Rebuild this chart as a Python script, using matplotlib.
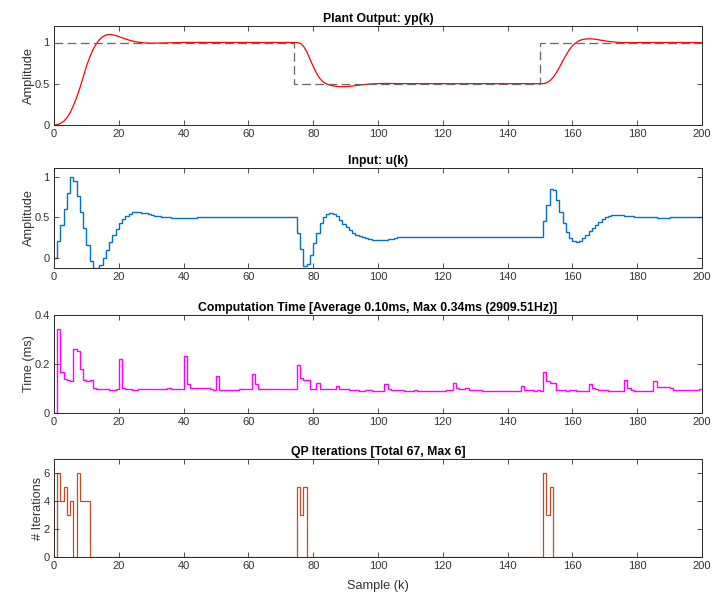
import numpy as np
import matplotlib
matplotlib.use("Agg")
import matplotlib.pyplot as plt

# ---------------- data ----------------
# plant output yp(k), k = 0..200
yp = [
    0.000, 0.005, 0.020, 0.045, 0.090, 0.150, 0.235, 0.335, 0.450, 0.580,
    0.710, 0.820, 0.910, 0.980, 1.035, 1.070, 1.090, 1.097, 1.094, 1.085,
    1.072, 1.058, 1.044, 1.031, 1.020, 1.011, 1.004, 0.999, 0.995, 0.993,
    0.992, 0.992, 0.993, 0.994, 0.995, 0.997, 0.998, 0.999, 1.000, 1.000,
    1.001, 1.001, 1.001, 1.001, 1.000, 1.000, 1.000, 1.000, 1.000, 1.000,
    1.000, 1.000, 1.000, 1.000, 1.000, 1.000, 1.000, 1.000, 1.000, 1.000,
    1.000, 1.000, 1.000, 1.000, 1.000, 1.000, 1.000, 1.000, 1.000, 1.000,
    1.000, 1.000, 1.000, 1.000, 1.000, 1.000, 0.990, 0.955, 0.890, 0.800,
    0.710, 0.630, 0.565, 0.525, 0.500, 0.485, 0.475, 0.469, 0.466, 0.465,
    0.466, 0.468, 0.472, 0.477, 0.482, 0.487, 0.491, 0.495, 0.498, 0.500,
    0.502, 0.503, 0.504, 0.504, 0.503, 0.503, 0.502, 0.501, 0.501, 0.500,
    0.500, 0.500, 0.500, 0.500, 0.500, 0.500, 0.500, 0.500, 0.500, 0.500,
    0.500, 0.500, 0.500, 0.500, 0.500, 0.500, 0.500, 0.500, 0.500, 0.500,
    0.500, 0.500, 0.500, 0.500, 0.500, 0.500, 0.500, 0.500, 0.500, 0.500,
    0.500, 0.500, 0.500, 0.500, 0.500, 0.500, 0.500, 0.500, 0.500, 0.500,
    0.500, 0.501, 0.510, 0.535, 0.575, 0.630, 0.700, 0.775, 0.845, 0.910,
    0.960, 0.995, 1.020, 1.035, 1.042, 1.045, 1.044, 1.040, 1.034, 1.027,
    1.020, 1.014, 1.009, 1.005, 1.002, 1.000, 0.999, 0.998, 0.998, 0.998,
    0.999, 0.999, 1.000, 1.000, 1.000, 1.000, 1.000, 1.000, 1.000, 1.000,
    1.000, 1.000, 1.000, 1.000, 1.000, 1.000, 1.000, 1.000, 1.000, 1.000,
    1.000,
]

# setpoint levels and the sample edges between them
setpoint_levels = [1.0, 0.5, 1.0]
setpoint_edges = [0, 74, 150, 200]

# input u(k), k = 0..199 (held to k+1)
u = [
    0.000, 0.200, 0.400, 0.600, 0.800, 1.000, 0.954, 0.760, 0.560, 0.370,
    0.160, -0.040, -0.125, -0.125, -0.090, -0.012, 0.088, 0.190, 0.275, 0.354,
    0.425, 0.475, 0.517, 0.540, 0.562, 0.562, 0.562, 0.550, 0.550, 0.538,
    0.525, 0.512, 0.512, 0.500, 0.500, 0.500, 0.488, 0.488, 0.488, 0.488,
    0.488, 0.488, 0.488, 0.488, 0.500, 0.500, 0.500, 0.500, 0.500, 0.500,
    0.500, 0.500, 0.500, 0.500, 0.500, 0.500, 0.500, 0.500, 0.500, 0.500,
    0.500, 0.500, 0.500, 0.500, 0.500, 0.500, 0.500, 0.500, 0.500, 0.500,
    0.500, 0.500, 0.500, 0.500, 0.500, 0.300, 0.100, -0.100, -0.085, 0.030,
    0.175, 0.310, 0.425, 0.500, 0.538, 0.550, 0.538, 0.512, 0.462, 0.412,
    0.375, 0.338, 0.300, 0.275, 0.262, 0.250, 0.238, 0.232, 0.222, 0.215,
    0.215, 0.218, 0.222, 0.228, 0.235, 0.240, 0.250, 0.250, 0.250, 0.250,
    0.250, 0.250, 0.250, 0.250, 0.250, 0.250, 0.250, 0.250, 0.250, 0.250,
    0.250, 0.250, 0.250, 0.250, 0.250, 0.250, 0.250, 0.250, 0.250, 0.250,
    0.250, 0.250, 0.250, 0.250, 0.250, 0.250, 0.250, 0.250, 0.250, 0.250,
    0.250, 0.250, 0.250, 0.250, 0.250, 0.250, 0.250, 0.250, 0.250, 0.250,
    0.250, 0.450, 0.650, 0.850, 0.840, 0.712, 0.562, 0.425, 0.312, 0.238,
    0.200, 0.188, 0.200, 0.238, 0.275, 0.325, 0.362, 0.400, 0.438, 0.475,
    0.500, 0.512, 0.525, 0.525, 0.525, 0.525, 0.518, 0.518, 0.518, 0.500,
    0.500, 0.500, 0.500, 0.500, 0.500, 0.500, 0.488, 0.488, 0.488, 0.488,
    0.500, 0.500, 0.500, 0.500, 0.500, 0.500, 0.500, 0.500, 0.500, 0.500,
]

# computation time (ms), k = 0..199
comp_time = [
    0.000, 0.344, 0.168, 0.140, 0.136, 0.132, 0.263, 0.255, 0.181, 0.136,
    0.132, 0.136, 0.103, 0.099, 0.099, 0.099, 0.099, 0.095, 0.095, 0.099,
    0.222, 0.104, 0.096, 0.096, 0.092, 0.092, 0.099, 0.099, 0.099, 0.099,
    0.099, 0.099, 0.099, 0.099, 0.099, 0.103, 0.096, 0.096, 0.096, 0.099,
    0.232, 0.118, 0.101, 0.101, 0.101, 0.101, 0.101, 0.101, 0.098, 0.093,
    0.149, 0.093, 0.093, 0.093, 0.093, 0.093, 0.093, 0.099, 0.099, 0.099,
    0.099, 0.158, 0.118, 0.100, 0.100, 0.100, 0.100, 0.097, 0.099, 0.096,
    0.096, 0.096, 0.096, 0.096, 0.096, 0.195, 0.142, 0.134, 0.134, 0.100,
    0.100, 0.124, 0.100, 0.100, 0.100, 0.100, 0.100, 0.112, 0.098, 0.098,
    0.098, 0.094, 0.094, 0.094, 0.091, 0.091, 0.095, 0.095, 0.091, 0.091,
    0.091, 0.091, 0.118, 0.098, 0.095, 0.095, 0.095, 0.095, 0.091, 0.091,
    0.091, 0.095, 0.091, 0.091, 0.091, 0.091, 0.091, 0.091, 0.091, 0.091,
    0.091, 0.095, 0.095, 0.122, 0.102, 0.099, 0.099, 0.102, 0.095, 0.095,
    0.095, 0.095, 0.091, 0.091, 0.091, 0.091, 0.091, 0.091, 0.091, 0.091,
    0.091, 0.091, 0.091, 0.091, 0.111, 0.095, 0.095, 0.095, 0.091, 0.095,
    0.091, 0.169, 0.129, 0.122, 0.122, 0.095, 0.095, 0.095, 0.091, 0.095,
    0.095, 0.091, 0.091, 0.091, 0.091, 0.118, 0.104, 0.098, 0.095, 0.095,
    0.095, 0.091, 0.091, 0.091, 0.091, 0.091, 0.136, 0.102, 0.095, 0.091,
    0.091, 0.091, 0.091, 0.091, 0.091, 0.131, 0.106, 0.106, 0.106, 0.106,
    0.102, 0.095, 0.095, 0.095, 0.095, 0.095, 0.095, 0.095, 0.095, 0.098,
]

# QP iterations, k = 0..199
qp_iters = [
    0, 6, 4, 5, 3, 4, 0, 6, 4, 4,
    4, 0, 0, 0, 0, 0, 0, 0, 0, 0,
    0, 0, 0, 0, 0, 0, 0, 0, 0, 0,
    0, 0, 0, 0, 0, 0, 0, 0, 0, 0,
    0, 0, 0, 0, 0, 0, 0, 0, 0, 0,
    0, 0, 0, 0, 0, 0, 0, 0, 0, 0,
    0, 0, 0, 0, 0, 0, 0, 0, 0, 0,
    0, 0, 0, 0, 0, 5, 3, 5, 0, 0,
    0, 0, 0, 0, 0, 0, 0, 0, 0, 0,
    0, 0, 0, 0, 0, 0, 0, 0, 0, 0,
    0, 0, 0, 0, 0, 0, 0, 0, 0, 0,
    0, 0, 0, 0, 0, 0, 0, 0, 0, 0,
    0, 0, 0, 0, 0, 0, 0, 0, 0, 0,
    0, 0, 0, 0, 0, 0, 0, 0, 0, 0,
    0, 0, 0, 0, 0, 0, 0, 0, 0, 0,
    0, 6, 3, 5, 0, 0, 0, 0, 0, 0,
    0, 0, 0, 0, 0, 0, 0, 0, 0, 0,
    0, 0, 0, 0, 0, 0, 0, 0, 0, 0,
    0, 0, 0, 0, 0, 0, 0, 0, 0, 0,
    0, 0, 0, 0, 0, 0, 0, 0, 0, 0,
]

titles = [
    "Plant Output: yp(k)",
    "Input: u(k)",
    "Computation Time [Average 0.10ms, Max 0.34ms (2909.51Hz)]",
    "QP Iterations [Total 67, Max 6]",
]
ylabels = ["Amplitude", "Amplitude", "Time (ms)", "# Iterations"]
xticks = [0, 20, 40, 60, 80, 100, 120, 140, 160, 180, 200]

# ---------------- style ----------------
plt.rcParams["font.family"] = ["Liberation Sans", "DejaVu Sans"]
axcol = (0.15, 0.15, 0.15)
tickcol = (0.2, 0.2, 0.2)

W, H = 725, 603
fig = plt.figure(figsize=(W / 100, H / 100), dpi=100)

boxes = [(26, 125), (168, 268), (315, 413), (459, 557)]
left, right = 54, 702
axes = []
for top, bot in boxes:
    ax = fig.add_axes([left / W, 1 - bot / H, (right - left) / W, (bot - top) / H])
    axes.append(ax)

k_line = np.arange(len(yp))
edges = np.arange(len(u) + 1)

ax1, ax2, ax3, ax4 = axes
ax1.plot(k_line, yp, color=(1, 0, 0), lw=0.9, zorder=2)
ax1.stairs(setpoint_levels, setpoint_edges, baseline=None, color=(0.4, 0.4, 0.4),
           lw=0.9, linestyle=(0, (7, 3.5)), zorder=3)
ax1.set_ylim(0, 1.2)
ax1.set_yticks([0, 0.5, 1])
ax1.set_yticklabels(["0", "0.5", "1"])

ax2.stairs(u, edges, baseline=None, color=(0, 0.447, 0.741), lw=1.0)
ax2.set_ylim(-0.13, 1.11)
ax2.set_yticks([0, 0.5, 1])
ax2.set_yticklabels(["0", "0.5", "1"])

ax3.stairs(comp_time, edges, baseline=None, color=(1, 0, 1), lw=1.0)
ax3.set_ylim(0, 0.4)
ax3.set_yticks([0, 0.2, 0.4])
ax3.set_yticklabels(["0", "0.2", "0.4"])

ax4.stairs(qp_iters, edges, baseline=0, color=(0.75, 0.29, 0.15), lw=0.9)
ax4.set_ylim(0, 7)
ax4.set_yticks([0, 2, 4, 6])

for ax, t, yl in zip(axes, titles, ylabels):
    ax.set_xlim(0, 200)
    ax.set_xticks(xticks)
    ax.set_title(t, fontsize=8.8, fontweight="bold", pad=3, color="black")
    ax.set_ylabel(yl, fontsize=9.2, color=tickcol, labelpad=-0.5)
    ax.tick_params(direction="in", top=True, right=True, length=3.5, width=0.6,
                   labelsize=8, colors=tickcol, pad=3)
    for s in ax.spines.values():
        s.set_color(axcol)
        s.set_linewidth(0.7)

ax4.set_xlabel("Sample (k)", fontsize=9.2, color=tickcol, labelpad=6.5)

fig.savefig("out.png", dpi=100)
